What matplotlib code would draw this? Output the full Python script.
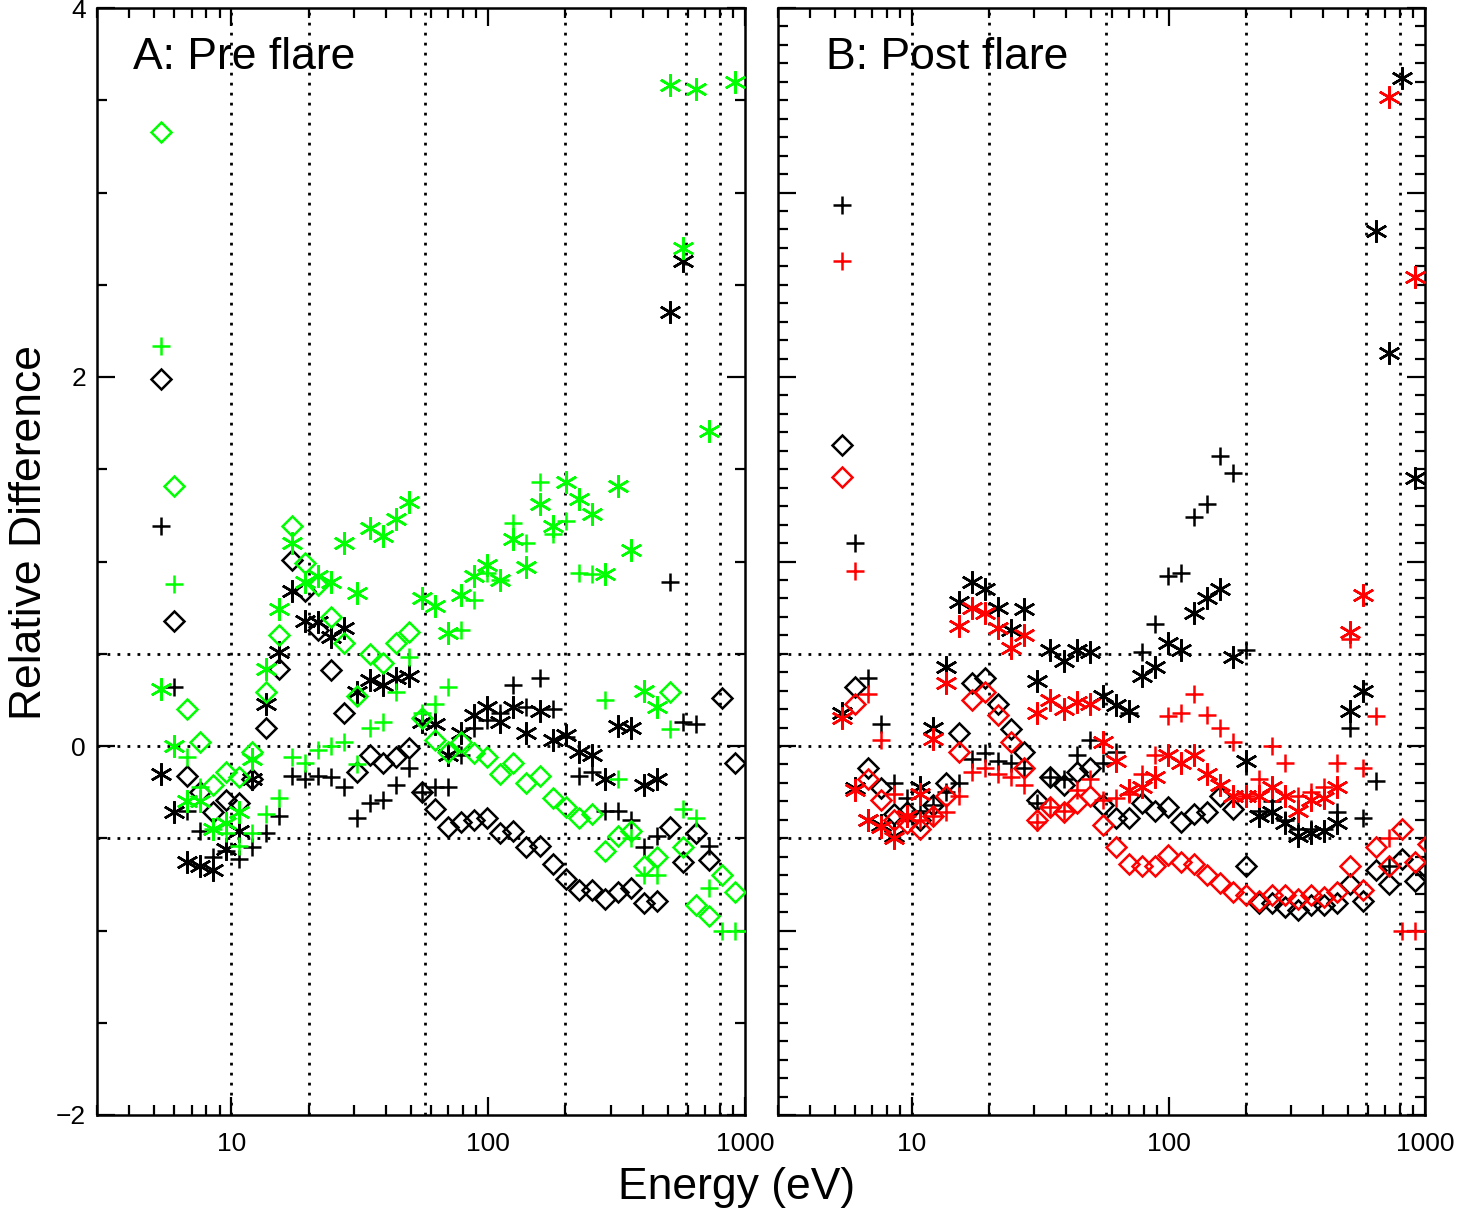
import numpy as np
import matplotlib
matplotlib.use("Agg")
import matplotlib.pyplot as plt
from matplotlib.ticker import FixedLocator, FixedFormatter, NullFormatter, MultipleLocator

nan = np.nan

# energy bins (eV)
energy = [5.33, 5.99, 6.74, 7.57, 8.51, 9.56, 10.75, 12.09, 13.59, 15.27,
          17.17, 19.30, 21.69, 24.39, 27.41, 30.81, 34.64, 38.94, 43.77, 49.20,
          55.31, 62.17, 69.89, 78.57, 88.32, 99.28, 111.6, 125.4, 141.0, 158.5,
          178.2, 200.3, 225.1, 253.1, 284.5, 319.8, 359.4, 404.1, 454.2, 510.6,
          573.9, 645.1, 725.2, 815.2, 916.3, 1030.0]

# ---- Panel A: Pre flare ----
pre_black_diamond = [1.99, 0.68, -0.16, -0.25, -0.36, -0.29, -0.31, -0.18, 0.10, 0.42,
                     1.01, 0.84, 0.63, 0.41, 0.18, -0.14, -0.05, -0.09, -0.06, -0.01,
                     -0.25, -0.34, -0.44, -0.41, -0.40, -0.39, -0.47, -0.46, -0.55, -0.54,
                     -0.64, -0.72, -0.78, -0.78, -0.83, -0.79, -0.77, -0.85, -0.84, -0.44,
                     -0.63, -0.47, -0.62, 0.26, -0.09, nan]
pre_green_diamond = [3.33, 1.41, 0.20, 0.02, -0.21, -0.14, -0.17, -0.03, 0.29, 0.60,
                     1.19, 0.99, 0.87, 0.70, 0.56, 0.27, 0.50, 0.45, 0.56, 0.62,
                     0.15, 0.03, -0.03, 0.02, -0.04, -0.06, -0.15, -0.09, -0.20, -0.16,
                     -0.28, -0.33, -0.39, -0.37, -0.57, -0.49, -0.46, -0.65, -0.60, 0.29,
                     -0.55, -0.86, -0.92, -0.70, -0.79, nan]
pre_black_plus = [1.19, 0.32, -0.35, -0.46, -0.60, -0.57, -0.61, -0.55, -0.47, -0.38,
                  -0.16, -0.18, -0.16, -0.17, -0.22, -0.39, -0.31, -0.29, -0.21, -0.12,
                  -0.25, -0.22, -0.22, -0.05, 0.10, 0.14, 0.18, 0.33, 0.21, 0.37,
                  0.20, 0.05, -0.16, -0.14, -0.35, -0.35, -0.40, -0.55, -0.49, 0.89,
                  0.13, 0.12, -0.54, nan, nan, nan]
pre_green_plus = [2.17, 0.88, -0.06, -0.22, -0.45, -0.47, -0.54, -0.47, -0.37, -0.28,
                  -0.06, -0.09, -0.02, 0.00, 0.02, -0.10, 0.10, 0.13, 0.29, 0.48,
                  0.18, 0.23, 0.32, 0.63, 0.79, 0.94, 0.90, 1.21, 1.10, 1.43,
                  1.15, 1.22, 0.94, 0.93, 0.25, -0.18, -0.50, -0.70, -0.70, 0.09,
                  -0.34, -0.39, -0.77, -1.00, -1.00, -1.00]
pre_black_star = [-0.15, -0.36, -0.63, -0.65, -0.67, -0.56, -0.46, -0.18, 0.23, 0.51,
                  0.84, 0.68, 0.67, 0.59, 0.64, 0.29, 0.36, 0.33, 0.37, 0.38,
                  0.13, 0.12, -0.05, 0.07, 0.17, 0.21, 0.13, 0.21, 0.07, 0.19,
                  0.03, 0.06, -0.03, -0.05, -0.18, 0.11, 0.10, -0.21, -0.18, 2.35,
                  2.63, nan, nan, nan, nan, nan]
pre_green_star = [0.31, 0.00, -0.30, -0.30, -0.45, -0.42, -0.36, -0.07, 0.42, 0.74,
                  1.10, 0.89, 0.92, 0.89, 1.10, 0.83, 1.18, 1.14, 1.23, 1.32,
                  0.80, 0.76, 0.61, 0.82, 0.92, 0.98, 0.90, 1.12, 0.97, 1.31,
                  1.19, 1.43, 1.34, 1.26, 0.93, 1.41, 1.06, 0.30, 0.21, 3.58,
                  2.70, 3.56, 1.71, nan, 3.60, nan]

# ---- Panel B: Post flare ----
post_black_diamond = [1.63, 0.32, -0.12, -0.23, -0.37, -0.36, -0.40, -0.32, -0.20, 0.07,
                      0.34, 0.37, 0.23, 0.09, -0.03, -0.29, -0.17, -0.21, -0.14, -0.12,
                      -0.32, -0.39, -0.39, -0.31, -0.35, -0.33, -0.41, -0.37, -0.36, -0.27,
                      -0.34, -0.65, -0.85, -0.85, -0.87, -0.89, -0.86, -0.86, -0.85, -0.75,
                      -0.84, -0.67, -0.75, -0.61, -0.73, -0.67]
post_red_diamond = [1.46, 0.23, -0.18, -0.29, -0.40, -0.42, -0.45, -0.38, -0.27, -0.03,
                    0.25, 0.29, 0.17, 0.02, -0.12, -0.40, -0.33, -0.36, -0.31, -0.27,
                    -0.43, -0.55, -0.64, -0.65, -0.65, -0.59, -0.63, -0.64, -0.70, -0.74,
                    -0.79, -0.81, -0.84, -0.81, -0.81, -0.83, -0.81, -0.82, -0.79, -0.65,
                    -0.78, -0.55, -0.65, -0.45, -0.63, -0.53]
post_black_plus = [2.93, 1.10, 0.37, 0.12, -0.20, -0.28, -0.35, -0.32, -0.25, -0.20,
                   -0.07, -0.04, -0.08, -0.09, -0.12, -0.31, -0.17, -0.18, -0.05, 0.03,
                   -0.09, -0.03, 0.18, 0.51, 0.66, 0.92, 0.94, 1.24, 1.31, 1.57,
                   1.48, 0.52, -0.35, -0.30, -0.40, -0.45, -0.45, -0.45, -0.36, 0.10,
                   -0.39, -0.19, -0.65, nan, nan, nan]
post_red_plus = [2.63, 0.95, 0.28, 0.03, -0.26, -0.38, -0.40, -0.38, -0.36, -0.27,
                 -0.14, -0.12, -0.15, -0.17, -0.21, -0.41, -0.33, -0.35, -0.24, -0.18,
                 -0.29, -0.28, -0.26, -0.15, -0.05, 0.16, 0.18, 0.28, 0.17, 0.10,
                 0.02, -0.27, -0.18, 0.00, -0.09, -0.27, -0.25, -0.22, -0.09, 0.58,
                 -0.12, 0.16, -0.50, -1.00, -1.00, -1.00]
post_black_star = [0.18, -0.23, -0.40, -0.43, -0.49, -0.38, -0.22, 0.10, 0.43, 0.78,
                   0.89, 0.85, 0.75, 0.63, 0.74, 0.35, 0.52, 0.46, 0.52, 0.51,
                   0.27, 0.22, 0.19, 0.38, 0.43, 0.56, 0.52, 0.72, 0.80, 0.85,
                   0.48, -0.08, -0.38, -0.36, -0.42, -0.49, -0.47, -0.46, -0.42, 0.19,
                   0.30, 2.79, 2.13, 3.62, 1.45, nan]
post_red_star = [0.15, -0.24, -0.40, -0.44, -0.50, -0.38, -0.26, 0.04, 0.34, 0.65,
                 0.75, 0.72, 0.64, 0.53, 0.60, 0.18, 0.25, 0.20, 0.24, 0.23,
                 0.02, -0.08, -0.24, -0.22, -0.17, -0.05, -0.09, -0.05, -0.15, -0.21,
                 -0.27, -0.27, -0.27, -0.22, -0.27, -0.35, -0.29, -0.28, -0.22, 0.62,
                 0.82, nan, 3.52, nan, 2.54, nan]

vlines = [10, 20, 57, 200, 590, 800]
hlines = [0.5, 0.0, -0.5]
xticks = [10, 100, 1000]
xticklabels = ["10", "100", "1000"]
yticks_a = [-2, 0, 2, 4]
yticklabels_a = ["\u22122", "0", "2", "4"]

GREEN = "#00ff00"
RED = "#ff0000"
BLACK = "#000000"

plt.rcParams['font.family'] = ['Liberation Sans', 'DejaVu Sans']

W, H = 1475, 1215
fig = plt.figure(figsize=(W / 100, H / 100), dpi=100)

def px_axes(x0, x1, y0, y1):
    return fig.add_axes([x0 / W, 1 - y1 / H, (x1 - x0) / W, (y1 - y0) / H])

axA = px_axes(97, 745, 8, 1115)
axB = px_axes(778, 1425, 8, 1115)

ASTER = (6, 2, 0)
ms_d, ms_p, ms_a = 10.0, 13.0, 16.0
mew = 1.8

def draw(ax, series):
    for y, marker, color, ms in series:
        ax.plot(energy, y, linestyle="none", marker=marker, markersize=ms,
                markerfacecolor="none", markeredgecolor=color, markeredgewidth=mew,
                color=color, zorder=3)

draw(axA, [
    (pre_black_diamond, "D", BLACK, ms_d),
    (pre_black_plus, "+", BLACK, ms_p),
    (pre_black_star, ASTER, BLACK, ms_a),
    (pre_green_diamond, "D", GREEN, ms_d),
    (pre_green_plus, "+", GREEN, ms_p),
    (pre_green_star, ASTER, GREEN, ms_a),
])
draw(axB, [
    (post_black_diamond, "D", BLACK, ms_d),
    (post_black_plus, "+", BLACK, ms_p),
    (post_black_star, ASTER, BLACK, ms_a),
    (post_red_diamond, "D", RED, ms_d),
    (post_red_plus, "+", RED, ms_p),
    (post_red_star, ASTER, RED, ms_a),
])

for ax in (axA, axB):
    ax.set_xscale("log")
    ax.set_xlim(3, 1000)
    ax.set_ylim(-2, 4)
    for v in vlines:
        ax.axvline(v, color="black", lw=2.0, linestyle=(0, (1, 2.6)), zorder=1)
    for h in hlines:
        ax.axhline(h, color="black", lw=2.0, linestyle=(0, (1, 2.6)), zorder=1)
    ax.xaxis.set_major_locator(FixedLocator(xticks))
    ax.xaxis.set_major_formatter(FixedFormatter(xticklabels))
    minors = [m * 10 ** d for d in range(0, 3) for m in range(2, 10)]
    minors = [m for m in minors if 3 <= m <= 1000]
    ax.xaxis.set_minor_locator(FixedLocator(minors))
    ax.xaxis.set_minor_formatter(NullFormatter())
    ax.tick_params(which="both", direction="in", top=True, right=True,
                   width=1.6, labelsize=19)
    ax.tick_params(which="major", length=13, pad=12)
    ax.tick_params(which="minor", length=7)
    for s in ax.spines.values():
        s.set_linewidth(1.8)

axA.yaxis.set_major_locator(FixedLocator(yticks_a))
axA.yaxis.set_major_formatter(FixedFormatter(yticklabels_a))
axA.yaxis.set_minor_locator(MultipleLocator(0.5))
axA.tick_params(axis="y", which="major", pad=8)
axB.yaxis.set_major_locator(MultipleLocator(1.0))
axB.yaxis.set_minor_locator(MultipleLocator(0.1))
axB.yaxis.set_major_formatter(NullFormatter())

axA.text(0.056, 0.955, "A: Pre flare", transform=axA.transAxes, fontsize=32,
         ha="left", va="center")
axB.text(0.074, 0.955, "B: Post flare", transform=axB.transAxes, fontsize=32,
         ha="left", va="center")

fig.text(30 / W, 1 - 533 / H, "Relative Difference", rotation=90, fontsize=32,
         ha="center", va="center")
fig.text(737 / W, 1 - 1187 / H, "Energy (eV)", fontsize=32, ha="center", va="center")

fig.savefig("out.png", dpi=100)
